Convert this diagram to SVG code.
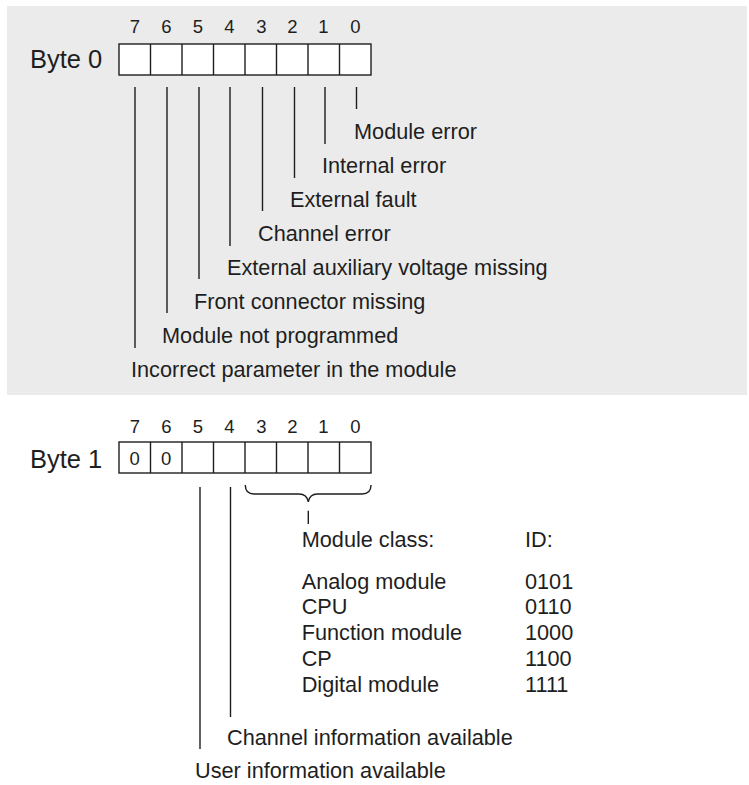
<svg xmlns="http://www.w3.org/2000/svg" width="749" height="785" viewBox="0 0 749 785">
<style>
  text { font-family: "Liberation Sans", Arial, sans-serif; fill: #1e1e1e; }
  .lbl { font-size: 21.7px; }
  .byte { font-size: 25.5px; }
  .bit { font-size: 18.5px; text-anchor: middle; }
  .cell { fill: #ffffff; stroke: #1e1e1e; stroke-width: 1.4; }
  .sep { stroke: #1e1e1e; stroke-width: 1.4; }
  .ln { stroke: #1e1e1e; stroke-width: 1.4; fill: none; }
</style>
<rect x="7" y="6" width="740" height="389" fill="#ebebeb"/>

<g id="byte0">
  <text class="byte" x="30" y="68.3">Byte 0</text>
  <g id="byte0-bits">
    <text class="bit" x="135" y="33.3">7</text>
    <text class="bit" x="166.5" y="33.3">6</text>
    <text class="bit" x="198" y="33.3">5</text>
    <text class="bit" x="229.5" y="33.3">4</text>
    <text class="bit" x="261.5" y="33.3">3</text>
    <text class="bit" x="292.5" y="33.3">2</text>
    <text class="bit" x="323.5" y="33.3">1</text>
    <text class="bit" x="355.5" y="33.3">0</text>
  </g>
  <rect class="cell" x="119" y="44" width="252" height="31"/>
  <path class="sep" d="M150.5,44V75M182,44V75M213.5,44V75M245,44V75M276.5,44V75M308,44V75M339.5,44V75"/>
</g>

<g id="byte0-labels">
  <text class="lbl" x="354" y="139">Module error</text>
  <text class="lbl" x="322" y="173">Internal error</text>
  <text class="lbl" x="290" y="207">External fault</text>
  <text class="lbl" x="258" y="241">Channel error</text>
  <text class="lbl" x="227" y="275">External auxiliary voltage missing</text>
  <text class="lbl" x="194" y="309">Front connector missing</text>
  <text class="lbl" x="162" y="343">Module not programmed</text>
  <text class="lbl" x="131" y="377">Incorrect parameter in the module</text>
</g>

<g id="byte1">
  <text class="byte" x="30" y="467.7">Byte 1</text>
  <g id="byte1-bits">
    <text class="bit" x="135" y="433.3">7</text>
    <text class="bit" x="166.5" y="433.3">6</text>
    <text class="bit" x="198" y="433.3">5</text>
    <text class="bit" x="229.5" y="433.3">4</text>
    <text class="bit" x="261.5" y="433.3">3</text>
    <text class="bit" x="292.5" y="433.3">2</text>
    <text class="bit" x="323.5" y="433.3">1</text>
    <text class="bit" x="355.5" y="433.3">0</text>
  </g>
  <rect class="cell" x="119" y="442" width="252" height="31"/>
  <path class="sep" d="M150.5,442V473M182,442V473M213.5,442V473M245,442V473M276.5,442V473M308,442V473M339.5,442V473"/>
  <text class="bit" x="134.75" y="465">0</text>
  <text class="bit" x="166.25" y="465">0</text>
</g>

<g id="module-class-table">
  <text class="lbl" x="301.7" y="546.7">Module class:</text>
  <text class="lbl" x="525" y="546.7">ID:</text>
  <text class="lbl" x="301.7" y="588.5">Analog module</text>
  <text class="lbl" x="525" y="588.5">0101</text>
  <text class="lbl" x="301.7" y="614.3">CPU</text>
  <text class="lbl" x="525" y="614.3">0110</text>
  <text class="lbl" x="301.7" y="640.1">Function module</text>
  <text class="lbl" x="525" y="640.1">1000</text>
  <text class="lbl" x="301.7" y="665.9">CP</text>
  <text class="lbl" x="525" y="665.9">1100</text>
  <text class="lbl" x="301.7" y="691.7">Digital module</text>
  <text class="lbl" x="525" y="691.7">1111</text>
</g>

<g id="byte1-labels">
  <text class="lbl" x="227" y="745">Channel information available</text>
  <text class="lbl" x="195" y="778">User information available</text>
</g>

<g id="connectors">
  <path class="ln" d="M356.5,87V109M325,87V144M294.5,87V178M262.5,87V211M230,87V246M199,87V279M167,87V313M135,87V348"/>
  <path class="ln" d="M200,487V749M230.5,487V717"/>
  <path class="ln" d="M245.3,485C245.3,491 248,494 254,494L299,494C304.5,494 307.5,497 308.3,502C309.1,497 312,494 317.5,494L362,494C368,494 371,491 371,485"/>
  <path class="ln" d="M308.3,510.7V524"/>
</g>
</svg>
